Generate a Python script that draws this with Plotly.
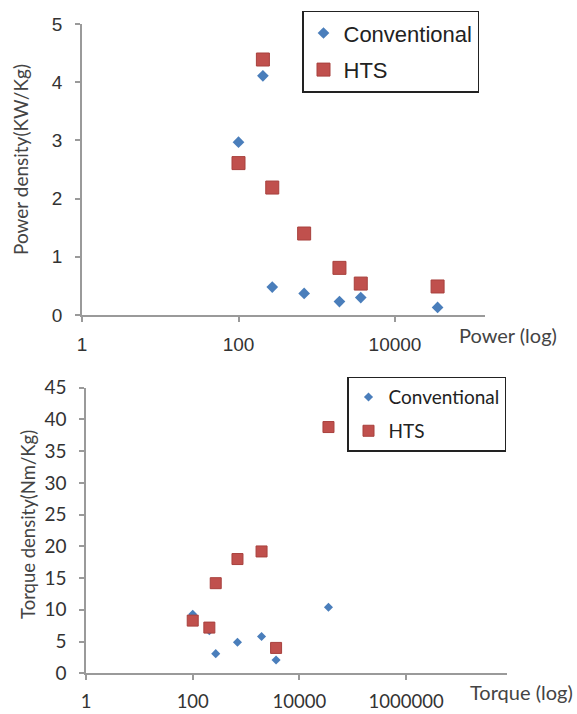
import plotly.graph_objects as go

# Rated power / torque of the machines (shared log x-axis values)
power_kw = [100, 205, 270, 690, 1950, 3650, 35000]
torque_nm = [100, 205, 270, 690, 1950, 3650, 35000]

# Power density (kW/kg)
power_density_conv = [2.97, 4.11, 0.48, 0.37, 0.23, 0.30, 0.13]
power_density_hts = [2.61, 4.39, 2.19, 1.40, 0.81, 0.54, 0.49]

# Torque density (Nm/kg)
torque_density_conv = [9.3, 6.7, 3.1, 4.9, 5.8, 2.1, 10.4]
torque_density_hts = [8.3, 7.2, 14.2, 18.0, 19.2, 4.0, 38.8]

power_ticks = [1, 100, 10000]
torque_ticks = [1, 100, 10000, 1000000]

W, H = 577, 714
BLUE = "#4A7EBB"
RED = "#C0504D"
AXIS = "#9a9a9a"
TXT = "#333333"


def px(x):
    return x / W


def py(y):
    return 1 - y / H


fig = go.Figure()

# Top panel: power density
fig.add_trace(go.Scatter(
    x=power_kw, y=power_density_conv, mode="markers", name="Conventional",
    marker=dict(symbol="diamond", size=9, color=BLUE),
    xaxis="x", yaxis="y", legend="legend", legendgroup="c1"))
fig.add_trace(go.Scatter(
    x=power_kw, y=power_density_hts, mode="markers", name="HTS",
    marker=dict(symbol="square", size=13, color=RED, line=dict(color="#a8403d", width=1)),
    xaxis="x", yaxis="y", legend="legend", legendgroup="h1"))

# Bottom panel: torque density
fig.add_trace(go.Scatter(
    x=torque_nm, y=torque_density_conv, mode="markers", name="Conventional",
    marker=dict(symbol="diamond", size=7, color=BLUE),
    xaxis="x2", yaxis="y2", legend="legend2", legendgroup="c2"))
fig.add_trace(go.Scatter(
    x=torque_nm, y=torque_density_hts, mode="markers", name="HTS",
    marker=dict(symbol="square", size=11, color=RED, line=dict(color="#a8403d", width=1)),
    xaxis="x2", yaxis="y2", legend="legend2", legendgroup="h2"))

arial = "Liberation Sans, Arial, sans-serif"
calib = "Lato, Open Sans, sans-serif"

common_axis = dict(showline=True, linecolor=AXIS, linewidth=1.5, showgrid=False,
                   zeroline=False, ticks="outside", tickcolor=AXIS, ticklen=5,
                   tickwidth=1.5, automargin=False)

fig.update_layout(
    width=W, height=H,
    margin=dict(l=0, r=0, t=0, b=0, autoexpand=False),
    paper_bgcolor="white", plot_bgcolor="white",
    xaxis=dict(type="log", range=[0, 5.15], domain=[px(82), px(485)],
               tickvals=power_ticks, ticktext=[str(v) for v in power_ticks],
               tickfont=dict(family=arial, size=19, color=TXT),
               ticklabelstandoff=6, anchor="y", **common_axis),
    yaxis=dict(range=[0, 5], domain=[py(315), py(24)], tickvals=[0, 1, 2, 3, 4, 5],
               tickfont=dict(family=arial, size=19, color=TXT),
               ticklabelstandoff=9, anchor="x", **common_axis),
    xaxis2=dict(type="log", range=[0, 7.89], domain=[px(86), px(507)],
                tickvals=torque_ticks, ticktext=[str(v) for v in torque_ticks],
                tickfont=dict(family=calib, size=18.5, color=TXT),
                ticklabelstandoff=6, anchor="y2", **common_axis),
    yaxis2=dict(range=[0, 45], domain=[py(673.3), py(387.7)],
                tickvals=list(range(0, 46, 5)),
                tickfont=dict(family=calib, size=19, color=TXT),
                ticklabelstandoff=9, anchor="x2", **common_axis),
    legend=dict(x=px(302), y=py(10.7), xanchor="left", yanchor="top",
                bordercolor="#222222", borderwidth=1.5, bgcolor="white",
                font=dict(family=arial, size=22, color="#222222"),
                tracegroupgap=5),
    legend2=dict(x=px(347), y=py(376.7), xanchor="left", yanchor="top",
                 bordercolor="#222222", borderwidth=1.5, bgcolor="white",
                 font=dict(family=calib, size=19, color="#222222"),
                 tracegroupgap=6),
    showlegend=True,
)

# Axis titles
titles = [
    ("Power density(KW/Kg)", 20, 160, -90, 19),
    ("Torque density(Nm/Kg)", 28, 525, -90, 18.5),
    ("Power (log)", 508, 335, 0, 20),
    ("Torque (log)", 521, 692, 0, 20),
]
for text, x, y, ang, size in titles:
    fig.add_annotation(text=text, x=px(x), y=py(y), xref="paper", yref="paper",
                       xanchor="center", yanchor="middle", textangle=ang,
                       showarrow=False,
                       font=dict(family=calib, size=size, color="#444444"))

fig.write_html("out.html")
